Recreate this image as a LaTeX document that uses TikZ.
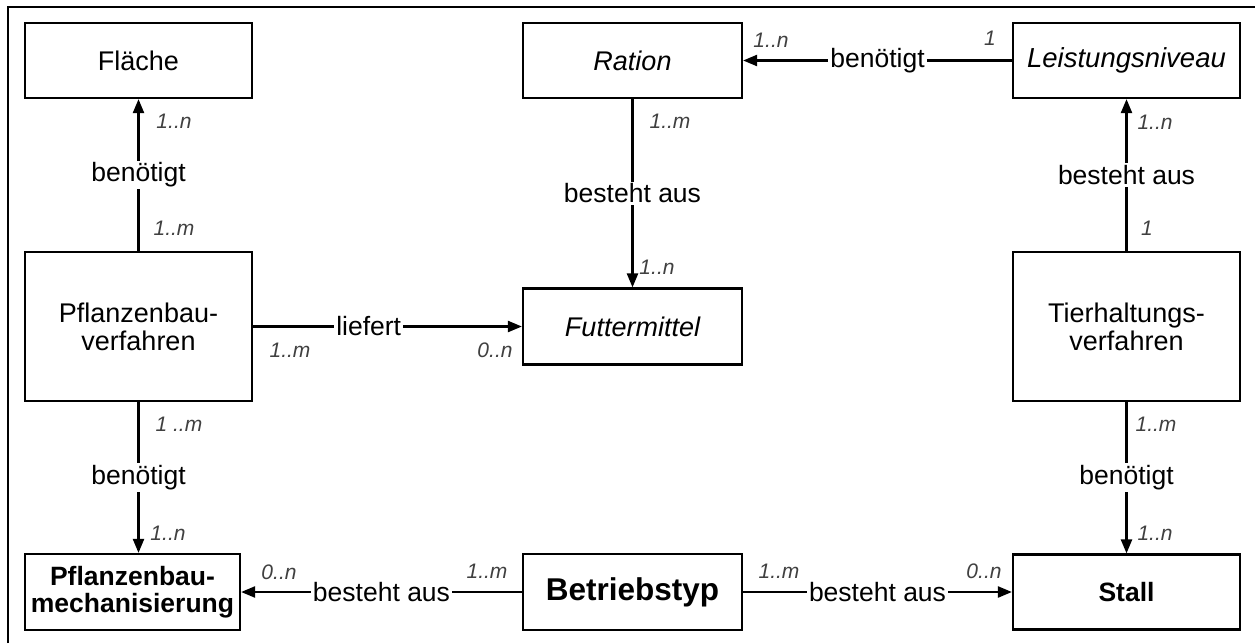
\documentclass[tikz,border=0pt]{standalone}
\usepackage{fontspec}
\setmainfont{Liberation Sans}
\usetikzlibrary{arrows.meta}
\begin{document}
\begin{tikzpicture}[x=1pt,y=-1pt,
  ent/.style={draw=black, line width=2.2pt, fill=white, align=center, inner sep=0pt,
              font=\fontsize{27}{28}\selectfont},
  conn/.style={line width=2.3pt, -{Triangle[length=14pt,width=11pt]}},
  rel/.style={fill=white, inner sep=2pt, font=\fontsize{26.5}{30}\selectfont},
  mult/.style={inner sep=0pt, text=black!75, font=\fontsize{21}{24}\selectfont\itshape},
]
\useasboundingbox (0,0) rectangle (1255,643);
\fill[white] (0,0) rectangle (1255,643);
% open frame: top and left edges
\draw[line width=2.2pt] (8,643) -- (8,7) -- (1255,7);

% entities
\node[ent, minimum width=227pt, minimum height=75pt] (fl) at (138.5,60.5) {Fläche};
\node[ent, minimum width=219pt, minimum height=75pt,
      font=\fontsize{27}{28}\selectfont\itshape] (ra) at (632.5,60.5) {Ration};
\node[ent, minimum width=227pt, minimum height=75pt,
      font=\fontsize{27.5}{28}\selectfont\itshape] (ln) at (1126.5,60.5) {Leistungsniveau};
\node[ent, minimum width=227pt, minimum height=149pt] (pv) at (138.5,326.5) {Pflanzenbau-\\verfahren};
\node[ent, minimum width=219pt, minimum height=76pt,
      font=\fontsize{27}{28}\selectfont\itshape] (fm) at (632.5,326.5) {Futtermittel};
\node[ent, minimum width=227pt, minimum height=149pt] (tv) at (1126.5,326.5) {Tierhaltungs-\\verfahren};
\node[ent, minimum width=215pt, minimum height=76pt,
      font=\fontsize{26.5}{27}\selectfont\bfseries] (pm) at (132.5,592) {Pflanzenbau-\\mechanisierung};
\node[ent, minimum width=219pt, minimum height=76pt,
      font=\fontsize{31.5}{36}\selectfont\bfseries] (bt) at (632.5,592) {Betriebstyp};
\node[ent, minimum width=227pt, minimum height=75pt,
      font=\fontsize{26.5}{30}\selectfont\bfseries] (st) at (1126.5,592) {Stall};

% relationships
\draw[conn] (pv) -- node[rel]{benötigt} (fl);
\draw[conn] (ln) -- node[rel]{benötigt} (ra);
\draw[conn] (ra) -- node[rel]{besteht aus} (fm);
\draw[conn] (tv) -- node[rel]{besteht aus} (ln);
\draw[conn] (pv) -- node[rel, pos=0.43]{liefert} (fm);
\draw[conn] (pv.south) -- node[rel]{benötigt} (pv.south |- pm.north);
\draw[conn] (tv) -- node[rel]{benötigt} (st);
\draw[conn] (bt) -- node[rel]{besteht aus} (pm);
\draw[conn] (bt) -- node[rel]{besteht aus} (st);

% multiplicities
\node[mult] (m1) at (174,121) {1..n};
\node[mult] (m2) at (174,228) {1..m};
\node[mult] (m3) at (179,424) {1 ..m};
\node[mult] (m4) at (168,533) {1..n};
\node[mult] (m5) at (670,121) {1..m};
\node[mult] (m6) at (657,267) {1..n};
\node[mult] (m7) at (771,40) {1..n};
\node[mult] (m8) at (990,38) {1};
\node[mult] (m9) at (1155,122) {1..n};
\node[mult] (m10) at (1147,228) {1};
\node[mult] (m11) at (1156,424) {1..m};
\node[mult] (m12) at (1155,533) {1..n};
\node[mult] (m13) at (290,350) {1..m};
\node[mult] (m14) at (495,350) {0..n};
\node[mult] (m15) at (279,572) {0..n};
\node[mult] (m16) at (487,571) {1..m};
\node[mult] (m17) at (779,571) {1..m};
\node[mult] (m18) at (984,571) {0..n};
\end{tikzpicture}
\end{document}
